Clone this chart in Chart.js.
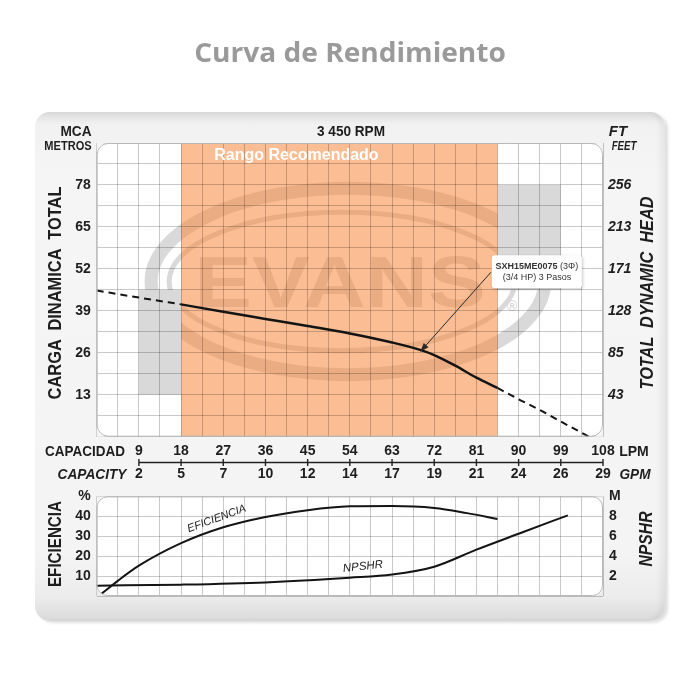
<!DOCTYPE html>
<html>
<head>
<meta charset="utf-8">
<script src="https://cdn.jsdelivr.net/npm/chart.js@4.4.1/dist/chart.umd.min.js"></script>
<style>
html,body{margin:0;padding:0;background:#fff;}
body{width:700px;height:700px;position:relative;overflow:hidden;font-family:"Liberation Sans",Arial,sans-serif;}
#panel{position:absolute;left:35px;top:112px;width:630px;height:509px;border-radius:15px;
  background:linear-gradient(180deg,#dcdcdc 0px,#f1f1f1 12px,#f5f5f5 60px,#f4f4f4 440px,#ececec 485px,#dadada 509px);
  box-shadow:3px 2px 3px rgba(0,0,0,0.13), inset -5px 0 5px rgba(0,0,0,0.05);}
.wrap{position:absolute;left:0;}
.lbl{position:absolute;white-space:pre;line-height:1;color:#1e1e1e;}
</style>
</head>
<body>
<div id="panel"></div>
<div class="wrap" style="top:0;width:700px;height:482px"><canvas id="cA" width="700" height="482"></canvas></div>
<div class="wrap" style="top:482px;width:700px;height:218px"><canvas id="cB" width="700" height="218"></canvas></div>
<script>
// ---------- data ----------
const flowLPM = [9, 18, 27, 36, 45, 54, 63, 72, 81, 90, 99, 108];
const flowGPM = ['2', '5', '7', '10', '12', '14', '17', '19', '21', '24', '26', '29'];
const headTicksM = [13, 26, 39, 52, 65, 78];
const headTicksFT = ['43', '85', '128', '171', '213', '256'];
const effTickLabels = ['', '10', '20', '30', '40', '%'];
const npshTickLabels = ['', '2', '4', '6', '8', 'M'];

const headFlowSolid = [18, 27, 36, 45, 54, 63, 69, 72, 76.5, 81, 85.5];
const headSolid     = [41.0, 38.7, 36.5, 34.3, 32.0, 29.2, 26.9, 25.3, 22.0, 18.3, 15.1];
const headFlowLow   = [0, 9, 18];
const headLow       = [45.3, 43.1, 41.0];
const headFlowHigh  = [85.5, 90, 94.5, 99, 105];
const headHigh      = [15.1, 11.6, 8.3, 4.7, 0];

const effFlow   = [1.1, 4.5, 9, 18, 27, 36, 45, 54, 63, 72, 79, 85.5];
const effValues = [1.3, 7.6, 15.2, 26.5, 34.5, 39.7, 43.1, 45.0, 45.2, 44.2, 41.6, 38.7];
const npshFlow   = [0, 18, 36, 54, 63, 72, 81, 90, 100.5];
const npshValues = [1.04, 1.14, 1.36, 1.83, 2.15, 2.94, 4.65, 6.25, 8.1];

const recommendedRange = [18, 85.5];
const modelLabel = ['SXH15ME0075', ' (3\u03A6)', '(3/4 HP) 3 Pasos'];

// ---------- helpers ----------
const FAM = '"Liberation Sans", Arial, sans-serif';
const pts = (xs, ys) => xs.map((x, i) => ({x: x, y: ys[i]}));
const stepTicks = (min, max, step) => { const a = []; for (let v = min; v <= max + 1e-9; v += step) a.push({value: +v.toFixed(3)}); return a; };
const gridCol = 'rgba(0,0,0,0.21)';
const tickFont = {family: FAM, size: 14, weight: 'bold'};
const tickFontIt = {family: FAM, size: 14, weight: 'bold', style: 'italic'};
const INK = '#1e1e1e';

function rrPath(ctx, x, y, w, h, r) {
  ctx.moveTo(x + r, y);
  ctx.lineTo(x + w - r, y); ctx.arcTo(x + w, y, x + w, y + r, r);
  ctx.lineTo(x + w, y + h - r); ctx.arcTo(x + w, y + h, x + w - r, y + h, r);
  ctx.lineTo(x + r, y + h); ctx.arcTo(x, y + h, x, y + h - r, r);
  ctx.lineTo(x, y + r); ctx.arcTo(x, y, x + r, y, r);
  ctx.closePath();
}

function makeFrame(radius, underlay, midlay, overlay) {
  return {
    id: 'frame',
    beforeDraw(chart) {
      const {ctx, chartArea: a, width, height} = chart;
      ctx.save();
      ctx.beginPath(); rrPath(ctx, a.left, a.top, a.width, a.height, radius);
      ctx.fillStyle = '#fff'; ctx.fill();
      if (underlay) underlay(chart, radius);
      ctx.restore();
      ctx.save();
      ctx.beginPath();
      ctx.rect(0, 0, width, height);
      ctx.rect(a.left, a.top, a.width, a.height);
      rrPath(ctx, a.left, a.top, a.width, a.height, radius);
      ctx.clip('evenodd');
    },
    afterDatasetsDraw(chart) { if (midlay) midlay(chart); },
    afterDraw(chart) {
      const {ctx, chartArea: a} = chart;
      ctx.restore();
      ctx.save();
      ctx.beginPath(); rrPath(ctx, a.left + 0.5, a.top + 0.5, a.width - 1, a.height - 1, radius);
      ctx.strokeStyle = '#b9b9b9'; ctx.lineWidth = 1; ctx.stroke();
      ctx.restore();
      if (overlay) overlay(chart);
    }
  };
}

// ---------- upper chart decorations ----------
function upperUnder(chart, radius) {
  const {ctx, chartArea: a, scales: {x, y}} = chart;
  const px = v => x.getPixelForValue(v), py = v => y.getPixelForValue(v);
  ctx.save();
  ctx.beginPath(); rrPath(ctx, a.left, a.top, a.width, a.height, radius); ctx.clip();
  const g = '#d9d9d9';
  ctx.fillStyle = g; ctx.strokeStyle = g;
  [[9, 18, 13, 45.5], [85.5, 99, 45.5, 78]].forEach(([x0, x1, y0, y1]) => {
    ctx.fillRect(px(x0), py(y1), px(x1) - px(x0), py(y0) - py(y1));
  });
  const cx = px(53.6), cy = py(48.1);
  const rx = px(53.6 + 42) - cx, ry = cy - py(48.1 + 28.9);
  ctx.lineWidth = 13;
  ctx.beginPath(); ctx.ellipse(cx, cy, rx, ry, 0, 0, Math.PI * 2); ctx.stroke();
  ctx.lineWidth = 5;
  ctx.beginPath(); ctx.ellipse(cx - 6, cy, rx - 24, ry - 24, 0, 0, Math.PI * 2); ctx.stroke();
  ctx.save();
  ctx.translate(px(51.9), py(46.2));
  ctx.scale(1.2, 1);
  ctx.font = 'bold 72px ' + FAM;
  ctx.textAlign = 'center'; ctx.textBaseline = 'middle';
  ctx.fillText('EVANS', 0, 0);
  ctx.restore();
  ctx.font = 'bold 14px ' + FAM;
  ctx.fillText('\u00AE', px(87.5), py(39));
  // recommended band
  ctx.fillStyle = 'rgba(248,137,60,0.55)';
  ctx.fillRect(px(recommendedRange[0]), a.top, px(recommendedRange[1]) - px(recommendedRange[0]), a.height);
  ctx.restore();
}

function upperMid(chart) {
  const {ctx, scales: {x, y}} = chart;
  const px = v => x.getPixelForValue(v), py = v => y.getPixelForValue(v);
  ctx.save();
  ctx.font = 'bold 16px ' + FAM;
  ctx.fillStyle = '#ffffff';
  ctx.textAlign = 'center'; ctx.textBaseline = 'middle';
  ctx.fillText('Rango Recomendado', px(42.6), py(87.1));
  const bx = px(93.9), by = py(51.1), w = 90, h = 33;
  const tx = px(69), ty = py(26.3);
  const sx = bx - w / 2 - 1, sy = by + 0.5;
  ctx.strokeStyle = '#2a2a2a'; ctx.fillStyle = '#2a2a2a'; ctx.lineWidth = 1;
  const ang = Math.atan2(ty - sy, tx - sx);
  const hl = 9, hw = 3.2;
  ctx.beginPath(); ctx.moveTo(sx, sy); ctx.lineTo(tx - Math.cos(ang) * hl * 0.8, ty - Math.sin(ang) * hl * 0.8); ctx.stroke();
  ctx.beginPath();
  ctx.moveTo(tx, ty);
  ctx.lineTo(tx - Math.cos(ang) * hl - Math.sin(ang) * hw, ty - Math.sin(ang) * hl + Math.cos(ang) * hw);
  ctx.lineTo(tx - Math.cos(ang) * hl + Math.sin(ang) * hw, ty - Math.sin(ang) * hl - Math.cos(ang) * hw);
  ctx.closePath(); ctx.fill();
  ctx.save();
  ctx.shadowColor = 'rgba(0,0,0,0.22)'; ctx.shadowBlur = 3; ctx.shadowOffsetX = 1; ctx.shadowOffsetY = 1;
  ctx.fillStyle = '#ffffff';
  ctx.beginPath(); rrPath(ctx, bx - w / 2, by - h / 2, w, h, 3); ctx.fill();
  ctx.restore();
  ctx.fillStyle = '#333333';
  ctx.textBaseline = 'middle'; ctx.textAlign = 'left';
  ctx.font = 'bold 9px ' + FAM;
  const w1 = ctx.measureText(modelLabel[0]).width;
  ctx.font = '9px ' + FAM;
  const w2 = ctx.measureText(modelLabel[1]).width;
  let lx = bx - (w1 + w2) / 2;
  ctx.font = 'bold 9px ' + FAM; ctx.fillText(modelLabel[0], lx, by - 5);
  ctx.font = '9px ' + FAM; ctx.fillText(modelLabel[1], lx + w1, by - 5);
  ctx.textAlign = 'center';
  ctx.fillText(modelLabel[2], bx, by + 6);
  ctx.restore();
}

function upperOver(chart) {
  const {ctx, scales: {x, x2}} = chart;
  const yl = Math.round(x2.top) + 0.5;
  ctx.save();
  ctx.strokeStyle = '#222'; ctx.lineWidth = 1.4;
  ctx.beginPath();
  ctx.moveTo(x.getPixelForValue(flowLPM[0]), yl);
  ctx.lineTo(x.getPixelForValue(flowLPM[flowLPM.length - 1]), yl);
  flowLPM.forEach(v => { const p = x.getPixelForValue(v); ctx.moveTo(p, yl - 3.5); ctx.lineTo(p, yl + 3.5); });
  ctx.stroke();
  ctx.restore();
}

function lowerMid(chart) {
  const {ctx, scales: {x, y, y2}} = chart;
  ctx.save();
  ctx.fillStyle = '#222';
  ctx.textAlign = 'center'; ctx.textBaseline = 'middle';
  ctx.font = 'italic 11px ' + FAM;
  ctx.translate(x.getPixelForValue(25.6), y.getPixelForValue(38.8));
  ctx.rotate(-20 * Math.PI / 180);
  ctx.fillText('EFICIENCIA', 0, 0);
  ctx.restore();
  ctx.save();
  ctx.fillStyle = '#222';
  ctx.textAlign = 'center'; ctx.textBaseline = 'middle';
  ctx.font = 'italic 11.5px ' + FAM;
  ctx.translate(x.getPixelForValue(56.8), y2.getPixelForValue(2.95));
  ctx.rotate(-6 * Math.PI / 180);
  ctx.fillText('NPSHR', 0, 0);
  ctx.restore();
}

// ---------- upper chart ----------
const lineBase = {pointRadius: 0, borderColor: '#141414', fill: false, cubicInterpolationMode: 'monotone'};
new Chart(document.getElementById('cA'), {
  type: 'line',
  data: {
    datasets: [
      Object.assign({label: 'CDT', data: pts(headFlowSolid, headSolid), borderWidth: 2.5, xAxisID: 'x', yAxisID: 'y'}, lineBase),
      Object.assign({label: 'CDT baja', data: pts(headFlowLow, headLow), borderWidth: 2, borderDash: [7, 5], xAxisID: 'x', yAxisID: 'y'}, lineBase),
      Object.assign({label: 'CDT alta', data: pts(headFlowHigh, headHigh), borderWidth: 2, borderDash: [7, 5], xAxisID: 'x', yAxisID: 'y'}, lineBase)
    ]
  },
  options: {
    responsive: false, animation: false, devicePixelRatio: 1,
    layout: {padding: {left: 0, right: 0, top: 143, bottom: 0}},
    plugins: {legend: {display: false}, tooltip: {enabled: false}},
    scales: {
      x: {
        type: 'linear', min: 0, max: 108, position: 'bottom',
        afterBuildTicks: s => { s.ticks = stepTicks(0, 108, 4.5); },
        ticks: {autoSkip: false, maxRotation: 0, minRotation: 0, padding: 6, font: tickFont, color: INK,
          callback: v => { const i = flowLPM.indexOf(v); return i >= 0 ? String(flowLPM[i]) : ''; }},
        grid: {color: gridCol, drawTicks: false}, border: {display: false},
        afterFit: s => { s.height = 25; }
      },
      x2: {
        type: 'linear', min: 0, max: 108, position: 'bottom',
        afterBuildTicks: s => { s.ticks = flowLPM.map(v => ({value: v})); },
        ticks: {autoSkip: false, maxRotation: 0, minRotation: 0, padding: 4, font: tickFont, color: INK,
          callback: (v, i) => flowGPM[i]},
        grid: {display: false, drawTicks: false}, border: {display: false},
        afterFit: s => { s.height = 20.3; }
      },
      y: {
        type: 'linear', min: 0, max: 91, position: 'left',
        afterBuildTicks: s => { s.ticks = stepTicks(0, 91, 6.5); },
        ticks: {autoSkip: false, padding: 6, font: tickFont, color: INK,
          callback: v => { const i = headTicksM.indexOf(v); return i >= 0 ? String(headTicksM[i]) : ''; }},
        grid: {color: gridCol, drawTicks: false}, border: {display: false},
        afterFit: s => { s.width = 96.7; }
      },
      y2: {
        type: 'linear', min: 0, max: 91, position: 'right',
        afterBuildTicks: s => { s.ticks = headTicksM.map(v => ({value: v})); },
        ticks: {autoSkip: false, padding: 5, font: tickFontIt, color: INK, callback: (v, i) => headTicksFT[i]},
        grid: {display: false, drawTicks: false}, border: {display: false},
        afterFit: s => { s.width = 97; }
      }
    }
  },
  plugins: [makeFrame(11, upperUnder, upperMid, upperOver)]
});

// ---------- lower chart ----------
new Chart(document.getElementById('cB'), {
  type: 'line',
  data: {
    datasets: [
      Object.assign({label: 'Eficiencia', data: pts(effFlow, effValues), borderWidth: 2, xAxisID: 'x', yAxisID: 'y'}, lineBase),
      Object.assign({label: 'NPSHR', data: pts(npshFlow, npshValues), borderWidth: 2, xAxisID: 'x', yAxisID: 'y2'}, lineBase)
    ]
  },
  options: {
    responsive: false, animation: false, devicePixelRatio: 1,
    layout: {padding: {left: 0, right: 0, top: 8, bottom: 104}},
    plugins: {legend: {display: false}, tooltip: {enabled: false}},
    scales: {
      x: {
        type: 'linear', min: 0, max: 108, position: 'bottom',
        afterBuildTicks: s => { s.ticks = stepTicks(0, 108, 4.5); },
        ticks: {display: false},
        grid: {color: gridCol, drawTicks: false}, border: {display: false},
        afterFit: s => { s.height = 0; }
      },
      y: {
        type: 'linear', min: 0, max: 50, position: 'left',
        afterBuildTicks: s => { s.ticks = stepTicks(0, 50, 10); },
        ticks: {autoSkip: false, padding: 6, font: tickFont, color: INK, callback: (v, i) => effTickLabels[i]},
        grid: {color: gridCol, drawTicks: false}, border: {display: false},
        afterFit: s => { s.width = 96.7; }
      },
      y2: {
        type: 'linear', min: 0, max: 10, position: 'right',
        afterBuildTicks: s => { s.ticks = stepTicks(0, 10, 2); },
        ticks: {autoSkip: false, padding: 6, font: tickFont, color: INK, callback: (v, i) => npshTickLabels[i]},
        grid: {display: false, drawTicks: false}, border: {display: false},
        afterFit: s => { s.width = 97; }
      }
    }
  },
  plugins: [makeFrame(10, null, lowerMid, null)]
});

// ---------- html labels ----------
function label(text, cx, cy, o) {
  o = o || {};
  const d = document.createElement('div');
  d.className = 'lbl';
  d.textContent = text;
  d.style.font = (o.italic ? 'italic ' : '') + (o.weight || 'bold') + ' ' + (o.size || 14) + 'px ' + (o.family || FAM);
  if (o.color) d.style.color = o.color;
  d.style.left = cx + 'px'; d.style.top = cy + 'px';
  document.body.appendChild(d);
  const sx = o.w ? o.w / d.offsetWidth : 1;
  d.style.transform = 'translate(-50%,-50%) rotate(' + (o.rot || 0) + 'deg) scaleX(' + sx.toFixed(3) + ')';
}
label('Curva de Rendimiento', 350, 52, {size: 26, family: '"Open Sans", Lato, sans-serif', color: '#9a9a9a', w: 312});
label('MCA', 76, 130, {size: 15, w: 31});
label('METROS', 68, 146, {size: 12, w: 47});
label('3 450 RPM', 351, 130, {size: 15, w: 68});
label('FT', 618, 130, {size: 15, italic: true});
label('FEET', 624, 146, {size: 12, italic: true, w: 25});
label('CARGA  DINAMICA  TOTAL', 55, 293, {size: 18, rot: -90, w: 213});
label('TOTAL  DYNAMIC  HEAD', 647, 293, {size: 18, rot: -90, italic: true, w: 193});
label('CAPACIDAD', 85, 451, {size: 14.5, w: 80});
label('LPM', 634, 451, {size: 14.5, w: 30});
label('CAPACITY', 92, 474, {size: 14.5, italic: true, w: 69});
label('GPM', 635, 474, {size: 14.5, italic: true, w: 31});
label('EFICIENCIA', 55, 544, {size: 18, rot: -90, w: 86});
label('NPSHR', 646, 539, {size: 18, rot: -90, italic: true, w: 55});
</script>
</body>
</html>
